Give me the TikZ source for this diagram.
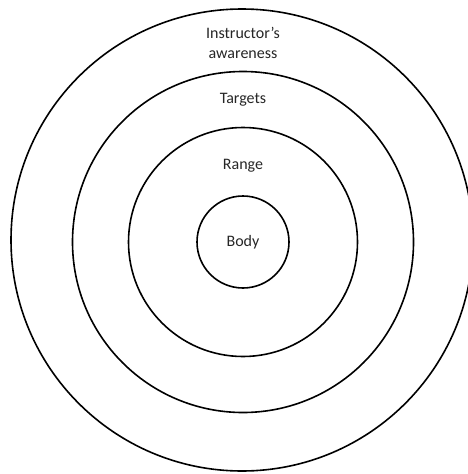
\documentclass[tikz,border=0pt]{standalone}
\usepackage{fontspec}
\setmainfont{Carlito}
\begin{document}
\begin{tikzpicture}[x=1pt,y=-1pt,
  ring/.style={circle,draw=black,line width=1.6pt,inner sep=0pt,minimum size=#1},
  lbl/.style={text=black!85,font=\fontsize{16}{20}\selectfont,align=center,inner sep=0pt}]
  \useasboundingbox (0,0) rectangle (467,474);
  % concentric rings, outermost first
  \node[ring=462pt] (aware) at (242,240) {};
  \node[ring=341pt] (targets) at (243,242) {};
  \node[ring=229pt] (range) at (243,242) {};
  \node[ring=92pt] (body) at (243,242) {};
  % ring labels
  \node[lbl] (tAware) at (243,43) {Instructor’s\\awareness};
  \node[lbl] (tTargets) at (243,100) {Targets};
  \node[lbl] (tRange) at (243,166) {Range};
  \node[lbl] (tBody) at (body.center) {Body};
\end{tikzpicture}
\end{document}
